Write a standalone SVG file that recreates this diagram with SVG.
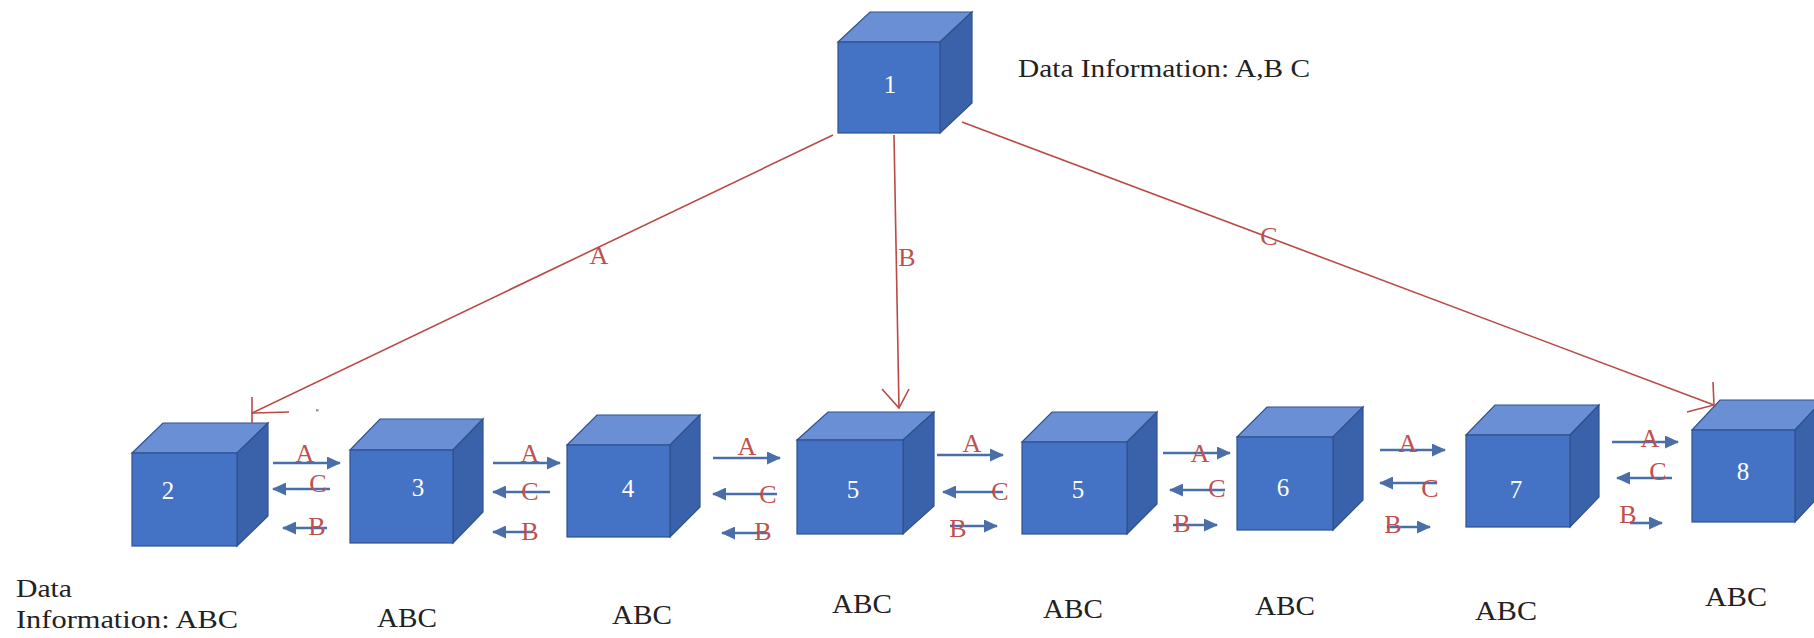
<svg xmlns="http://www.w3.org/2000/svg" width="1814" height="638" viewBox="0 0 1814 638">
<style>
.front{fill:#4472c4;stroke:#2f528f;stroke-width:1.2}
.top{fill:#6a8fd4;stroke:#2f528f;stroke-width:1.2}
.side{fill:#3a62aa;stroke:#2f528f;stroke-width:1.2}
.num{font-family:"Liberation Serif",serif;font-size:25px;fill:#ffffff;text-anchor:middle}
.lbl{font-family:"Liberation Serif",serif;font-size:26px;fill:#c0504d;text-anchor:middle}
.blk{font-family:"Liberation Serif",serif;fill:#222222}
.red{fill:none;stroke:#b94a48;stroke-width:1.6}
.blue{stroke:#4a6fa8;stroke-width:2.6;fill:none;marker-end:url(#bh)}
</style>
<defs>
<marker id="bh" markerUnits="userSpaceOnUse" markerWidth="14" markerHeight="13" refX="13" refY="6.5" orient="auto" viewBox="0 0 14 13">
<path d="M0,0 L14,6.5 L0,13 z" fill="#4a6fa8"/>
</marker>
</defs>
<rect width="1814" height="638" fill="#ffffff"/>

<g id="node-1">
<polygon class="top" points="838,42 870,12 972,12 940,42"/>
<polygon class="side" points="940,42 972,12 972,103 940,133"/>
<rect class="front" x="838" y="42" width="102" height="91"/>
<text class="num" x="890" y="93">1</text>
</g>

<g id="node-2">
<polygon class="top" points="132,453 163,423 268,423 237,453"/>
<polygon class="side" points="237,453 268,423 268,516 237,546"/>
<rect class="front" x="132" y="453" width="105" height="93"/>
<text class="num" x="168" y="499">2</text>
</g>

<g id="node-3">
<polygon class="top" points="350,450 380,419 483,419 453,450"/>
<polygon class="side" points="453,450 483,419 483,512 453,543"/>
<rect class="front" x="350" y="450" width="103" height="93"/>
<text class="num" x="418" y="496">3</text>
</g>

<g id="node-4">
<polygon class="top" points="567,445 597,415 700,415 670,445"/>
<polygon class="side" points="670,445 700,415 700,507 670,537"/>
<rect class="front" x="567" y="445" width="103" height="92"/>
<text class="num" x="628" y="497">4</text>
</g>

<g id="node-5a">
<polygon class="top" points="797,440 828,412 934,412 903,440"/>
<polygon class="side" points="903,440 934,412 934,506 903,534"/>
<rect class="front" x="797" y="440" width="106" height="94"/>
<text class="num" x="853" y="498">5</text>
</g>

<g id="node-5b">
<polygon class="top" points="1022,442 1052,412 1157,412 1127,442"/>
<polygon class="side" points="1127,442 1157,412 1157,504 1127,534"/>
<rect class="front" x="1022" y="442" width="105" height="92"/>
<text class="num" x="1078" y="498">5</text>
</g>

<g id="node-6">
<polygon class="top" points="1237,437 1267,407 1363,407 1333,437"/>
<polygon class="side" points="1333,437 1363,407 1363,500 1333,530"/>
<rect class="front" x="1237" y="437" width="96" height="93"/>
<text class="num" x="1283" y="496">6</text>
</g>

<g id="node-7">
<polygon class="top" points="1466,435 1495,405 1599,405 1570,435"/>
<polygon class="side" points="1570,435 1599,405 1599,497 1570,527"/>
<rect class="front" x="1466" y="435" width="104" height="92"/>
<text class="num" x="1516" y="498">7</text>
</g>

<g id="node-8">
<polygon class="top" points="1692,430 1720,400 1823,400 1795,430"/>
<polygon class="side" points="1795,430 1823,400 1823,492 1795,522"/>
<rect class="front" x="1692" y="430" width="103" height="92"/>
<text class="num" x="1743" y="480">8</text>
</g>

<g id="connectors">
<!-- from node 1 -->
<line class="red" x1="833" y1="135" x2="252" y2="413"/>
<polyline class="red" points="289,412 252,413 252,397"/>
<line class="red" x1="252" y1="413" x2="252" y2="423"/>
<line class="red" x1="894" y1="135" x2="899" y2="408"/>
<polyline class="red" points="882,389 899,408 909,389"/>
<line class="red" x1="962" y1="122" x2="1714" y2="405"/>
<polyline class="red" points="1687,412 1714,405 1713,382"/>
<rect x="316" y="409" width="2.5" height="2.5" fill="#999999"/>

<!-- 2-3 -->
<line class="blue" x1="273" y1="463" x2="340" y2="463"/>
<line class="blue" x1="330" y1="489" x2="273" y2="489"/>
<line class="blue" x1="327" y1="528" x2="283" y2="528"/>
<!-- 3-4 -->
<line class="blue" x1="493" y1="463" x2="560" y2="463"/>
<line class="blue" x1="550" y1="492" x2="493" y2="492"/>
<line class="blue" x1="533" y1="532" x2="493" y2="532"/>
<!-- 4-5 -->
<line class="blue" x1="713" y1="458" x2="780" y2="458"/>
<line class="blue" x1="777" y1="494" x2="713" y2="494"/>
<line class="blue" x1="767" y1="533" x2="722" y2="533"/>
<!-- 5-5 -->
<line class="blue" x1="937" y1="455" x2="1003" y2="455"/>
<line class="blue" x1="1003" y1="492" x2="943" y2="492"/>
<line class="blue" x1="950" y1="526" x2="997" y2="526"/>
<!-- 5-6 -->
<line class="blue" x1="1163" y1="453" x2="1230" y2="453"/>
<line class="blue" x1="1225" y1="490" x2="1170" y2="490"/>
<line class="blue" x1="1173" y1="525" x2="1217" y2="525"/>
<!-- 6-7 -->
<line class="blue" x1="1380" y1="450" x2="1445" y2="450"/>
<line class="blue" x1="1437" y1="483" x2="1380" y2="483"/>
<line class="blue" x1="1387" y1="527" x2="1430" y2="527"/>
<!-- 7-8 -->
<line class="blue" x1="1612" y1="442" x2="1678" y2="442"/>
<line class="blue" x1="1672" y1="478" x2="1617" y2="478"/>
<line class="blue" x1="1630" y1="523" x2="1662" y2="523"/>
</g>

<g id="connector-labels">
<text class="lbl" x="599" y="264">A</text>
<text class="lbl" x="907" y="266">B</text>
<text class="lbl" x="1269" y="245">C</text>

<text class="lbl" x="305" y="462">A</text>
<text class="lbl" x="318" y="492">C</text>
<text class="lbl" x="317" y="535">B</text>

<text class="lbl" x="530" y="462">A</text>
<text class="lbl" x="530" y="500">C</text>
<text class="lbl" x="530" y="540">B</text>

<text class="lbl" x="747" y="455">A</text>
<text class="lbl" x="768" y="503">C</text>
<text class="lbl" x="763" y="540">B</text>

<text class="lbl" x="972" y="452">A</text>
<text class="lbl" x="1000" y="500">C</text>
<text class="lbl" x="958" y="537">B</text>

<text class="lbl" x="1200" y="462">A</text>
<text class="lbl" x="1217" y="497">C</text>
<text class="lbl" x="1182" y="532">B</text>

<text class="lbl" x="1408" y="452">A</text>
<text class="lbl" x="1430" y="497">C</text>
<text class="lbl" x="1393" y="533">B</text>

<text class="lbl" x="1650" y="447">A</text>
<text class="lbl" x="1658" y="480">C</text>
<text class="lbl" x="1628" y="523">B</text>
</g>

<g id="texts">
<text class="blk" x="1018" y="77" font-size="26" textLength="292" lengthAdjust="spacingAndGlyphs">Data Information: A,B C</text>
<text class="blk" x="16" y="597" font-size="26" textLength="56" lengthAdjust="spacingAndGlyphs">Data</text>
<text class="blk" x="16" y="628" font-size="26" textLength="222" lengthAdjust="spacingAndGlyphs">Information: ABC</text>
<text class="blk" x="377" y="627" font-size="27" textLength="60" lengthAdjust="spacingAndGlyphs">ABC</text>
<text class="blk" x="612" y="624" font-size="27" textLength="60" lengthAdjust="spacingAndGlyphs">ABC</text>
<text class="blk" x="832" y="613" font-size="27" textLength="60" lengthAdjust="spacingAndGlyphs">ABC</text>
<text class="blk" x="1043" y="618" font-size="27" textLength="60" lengthAdjust="spacingAndGlyphs">ABC</text>
<text class="blk" x="1255" y="615" font-size="27" textLength="60" lengthAdjust="spacingAndGlyphs">ABC</text>
<text class="blk" x="1475" y="620" font-size="27" textLength="62" lengthAdjust="spacingAndGlyphs">ABC</text>
<text class="blk" x="1705" y="606" font-size="27" textLength="62" lengthAdjust="spacingAndGlyphs">ABC</text>
</g>
</svg>
